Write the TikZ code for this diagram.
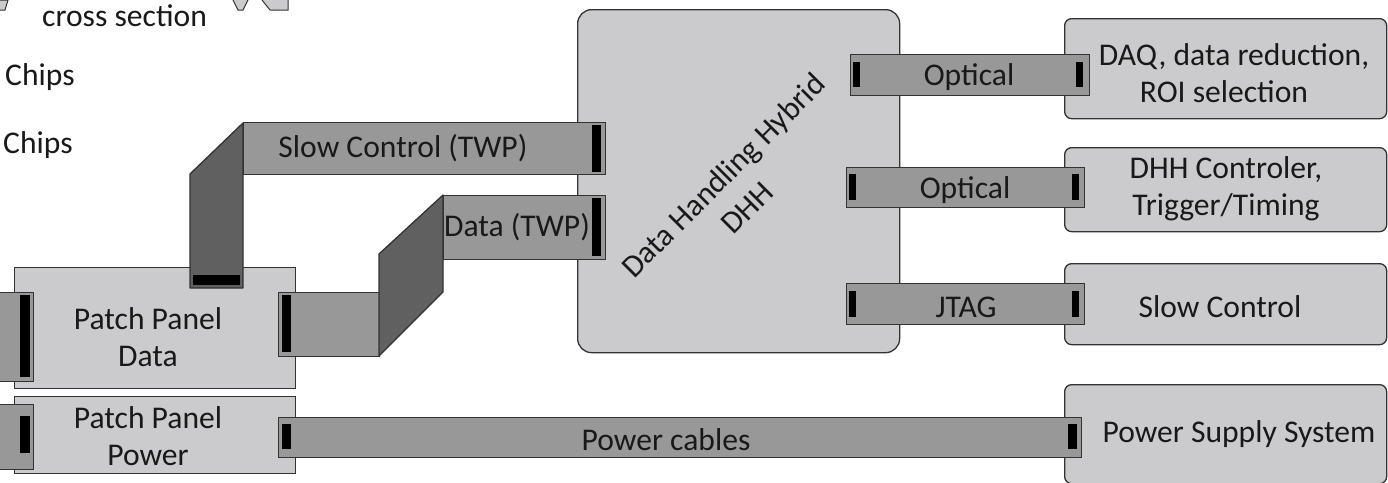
\documentclass[tikz,border=0pt]{standalone}
\usepackage{fontspec}
\setmainfont{Carlito}
\usetikzlibrary{calc, positioning}
\definecolor{boxgray}{HTML}{CBCBCD}
\definecolor{ribbongray}{HTML}{989898}
\definecolor{foldgray}{HTML}{606060}
\definecolor{edgegray}{HTML}{333333}
\tikzset{
    panel/.style={rectangle, draw=edgegray, line width=1.3pt, fill=boxgray, inner sep=0pt, anchor=north west},
    system/.style={panel, rounded corners=7pt},
    ribbon/.style={rectangle, draw=edgegray, line width=1.3pt, fill=ribbongray, inner sep=0pt, anchor=north west},
    fold/.style={draw=edgegray, line width=1.3pt, fill=foldgray, line join=round},
    plug/.style={rectangle, fill=black, inner sep=0pt, anchor=north west},
    label/.style={font=\fontsize{31.6}{37}\selectfont, align=center, text=black!90, inner sep=0pt},
    sliver/.style={draw=edgegray, line width=1pt, fill=boxgray}
}
\begin{document}
\begin{tikzpicture}[x=1pt, y=-1pt]
    \useasboundingbox (0,0) rectangle (1388,482);

    % Cut-off shapes at the top edge
    \draw[sliver] (0,10) -- (5,10) -- (8,0) -- (0,0);
    \draw[sliver] (233,0) -- (238,10) -- (243,10) -- (248,0);
    \draw[sliver] (262,0) -- (270,10) -- (288,10) -- (288,0);
    \node[label, anchor=west] (crossLabel) at (42,16) {cross section};
    \node[label, anchor=west] (chipsTop) at (5,77) {Chips};
    \node[label, anchor=west] (chipsBottom) at (3,145) {Chips};

    % Central hybrid
    \node[system, rounded corners=14pt, minimum width=322pt, minimum height=343pt] (dhh) at (577,9) {};
    \node[label, rotate=45] (dhhName) at (725,177) {Data Handling Hybrid};
    \node[label, rotate=45] (dhhShort) at (747,208) {DHH};

    % Systems on the right
    \node[system, minimum width=322pt, minimum height=100pt] (daq) at (1064,18) {};
    \node[system, minimum width=322pt, minimum height=84pt] (controller) at (1064,147) {};
    \node[system, minimum width=322pt, minimum height=81pt] (slowSystem) at (1064,263) {};
    \node[system, minimum width=322pt, minimum height=99pt] (powerSystem) at (1064,384) {};
    \node[label] (daqName) at (1234,73) {DAQ, data reduction,\\ROI selection\hspace*{20pt}};
    \node[label] (controllerName) at (1226,189) {DHH Controler,\\Trigger/Timing};
    \node[label] (slowName) at (1220,307) {Slow Control};
    \node[label] (powerName) at (1239,434) {Power Supply System};

    % Patch panels
    \node[panel, minimum width=281pt, minimum height=121pt] (panelData) at (14,267) {};
    \node[panel, minimum width=281pt, minimum height=77pt] (panelPower) at (14,396) {};
    \node[label] (panelDataName) at (148,337) {Patch Panel\\Data};
    \node[label] (panelPowerName) at (148,436) {Patch Panel\\Power};

    % Stubs leaving the panels on the left
    \node[ribbon, minimum width=35pt, minimum height=89pt] (stubData) at (-2,292) {};
    \node[ribbon, minimum width=35pt, minimum height=65pt] (stubPower) at (-2,404) {};
    \node[plug, minimum width=10pt, minimum height=82pt] (stubDataPlug) at (20,295) {};
    \node[plug, minimum width=10pt, minimum height=37pt] (stubPowerPlug) at (20,416) {};

    % Slow control ribbon
    \draw[fold] (190,288) -- (190,174) -- (243,123) -- (243,288) -- cycle;
    \node[plug, minimum width=47pt, minimum height=10pt] (slowFoot) at (193,275) {};
    \node[ribbon, minimum width=362pt, minimum height=52pt] (slowRibbon) at (243,122) {};
    \node[plug, minimum width=9pt, minimum height=47pt] (slowPlug) at (592,125) {};
    \node[label] (slowRibbonName) at (403,148) {Slow Control (TWP)};

    % Data ribbon
    \node[ribbon, minimum width=101pt, minimum height=64pt] (dataLow) at (278,292) {};
    \node[plug, minimum width=9pt, minimum height=57pt] (dataLowPlug) at (282,295) {};
    \draw[fold] (379,356) -- (379,254) -- (443,195) -- (443,292) -- cycle;
    \node[ribbon, minimum width=162pt, minimum height=64pt] (dataHigh) at (443,195) {};
    \node[plug, minimum width=9pt, minimum height=58pt] (dataPlug) at (592,198) {};
    \node[label] (dataName) at (517,227) {Data (TWP)};

    % Links to the systems
    \node[ribbon, minimum width=239pt, minimum height=41pt] (opticalOne) at (850,54) {};
    \node[plug, minimum width=7pt, minimum height=25pt] (opticalOneIn) at (853,62) {};
    \node[plug, minimum width=7pt, minimum height=25pt] (opticalOneOut) at (1076,62) {};
    \node[label] (opticalOneName) at (969,77) {Optical};

    \node[ribbon, minimum width=238pt, minimum height=40pt] (opticalTwo) at (846,167) {};
    \node[plug, minimum width=7pt, minimum height=26pt] (opticalTwoIn) at (849,174) {};
    \node[plug, minimum width=7pt, minimum height=26pt] (opticalTwoOut) at (1072,174) {};
    \node[label] (opticalTwoName) at (965,190) {Optical};

    \node[ribbon, minimum width=238pt, minimum height=41pt] (jtag) at (846,283) {};
    \node[plug, minimum width=7pt, minimum height=26pt] (jtagIn) at (849,291) {};
    \node[plug, minimum width=7pt, minimum height=26pt] (jtagOut) at (1072,291) {};
    \node[label] (jtagName) at (966,307) {JTAG};

    % Power cables
    \node[ribbon, minimum width=803pt, minimum height=40pt] (powerCable) at (278,417) {};
    \node[plug, minimum width=9pt, minimum height=25pt] (powerIn) at (282,424) {};
    \node[plug, minimum width=9pt, minimum height=25pt] (powerOut) at (1068,424) {};
    \node[label] (powerCableName) at (666,440) {Power cables};
\end{tikzpicture}
\end{document}
